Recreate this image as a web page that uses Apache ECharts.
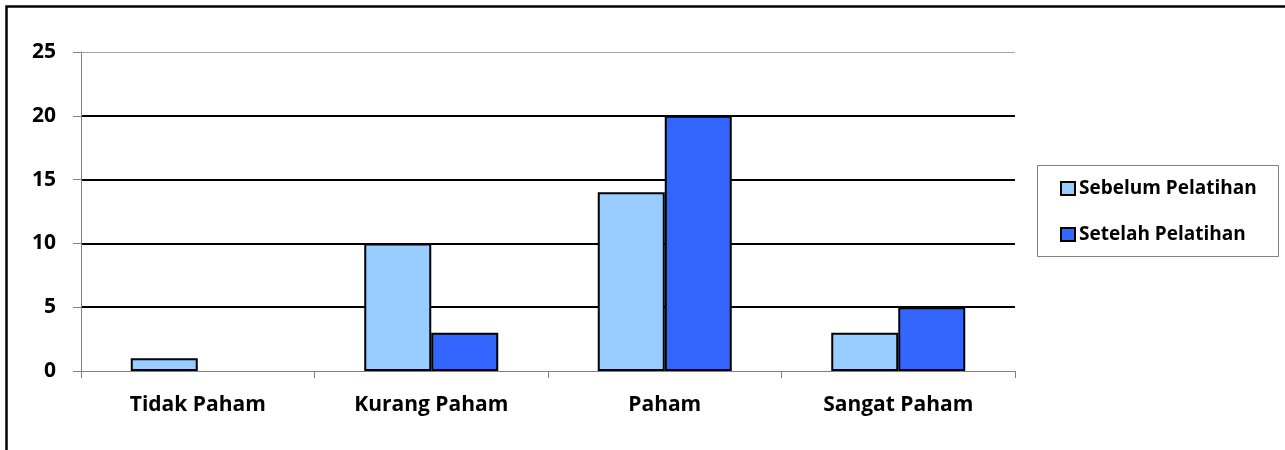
<!DOCTYPE html>
<html>
<head>
<meta charset="utf-8">
<style>
  html, body { margin: 0; padding: 0; background: #fff; }
  #chart { width: 1285px; height: 450px; }
</style>
<script src="https://cdn.jsdelivr.net/npm/echarts@6/dist/echarts.min.js"></script>
</head>
<body>
<div id="chart"></div>
<script>
// Tingkat pemahaman peserta sebelum dan sesudah pelatihan
const categories = ['Tidak Paham', 'Kurang Paham', 'Paham', 'Sangat Paham'];
const sebelum = [1, 10, 14, 3];
const setelah = [0, 3, 20, 5];
const seriesNames = ['Sebelum Pelatihan', 'Setelah Pelatihan'];

const FONT = '"Open Sans", sans-serif';

// zero-height bars draw no outline
function barData(values) {
  return values.map(v => v === 0 ? { value: v, itemStyle: { borderWidth: 0 } } : v);
}

const chart = echarts.init(document.getElementById('chart'), null, { renderer: 'canvas' });

chart.setOption({
  backgroundColor: '#ffffff',
  animation: false,
  textStyle: { fontFamily: FONT },
  grid: { left: 81, right: 270, top: 52, bottom: 79, containLabel: false },
  legend: {
    orient: 'vertical',
    left: 1060,
    top: 178,
    padding: 0,
    itemGap: 25,
    itemWidth: 14,
    itemHeight: 13,
    icon: 'rect',
    textStyle: {
      fontFamily: FONT, fontWeight: 'bold', fontSize: 19, lineHeight: 21,
      color: '#000', padding: [0, 0, 0, -1]
    },
    data: seriesNames
  },
  xAxis: {
    type: 'category',
    data: categories,
    axisLine: { lineStyle: { color: '#808080', width: 1 } },
    axisTick: { show: true, length: 7, lineStyle: { color: '#808080' } },
    axisLabel: { fontFamily: FONT, fontWeight: 'bold', fontSize: 21, color: '#000', margin: 24 }
  },
  yAxis: {
    type: 'value',
    min: 0,
    max: 25,
    interval: 5,
    axisLine: { show: true, lineStyle: { color: '#808080', width: 1 } },
    axisTick: { show: true, length: 8, lineStyle: { color: '#808080' } },
    axisLabel: { fontFamily: FONT, fontWeight: 'bold', fontSize: 21, color: '#000', margin: 25 },
    splitLine: {
      show: true,
      lineStyle: { color: ['transparent', '#000', '#000', '#000', '#000', 'transparent'], width: 2 }
    }
  },
  series: [
    {
      name: seriesNames[0],
      type: 'bar',
      data: barData(sebelum),
      barWidth: 67,
      barGap: '0%',
      itemStyle: { color: '#99CCFF', borderColor: '#000', borderWidth: 2 },
      markLine: {
        silent: true,
        symbol: 'none',
        label: { show: false },
        lineStyle: { color: '#a0a0a0', width: 1, type: 'solid' },
        data: [{ yAxis: 25 }]
      }
    },
    {
      name: seriesNames[1],
      type: 'bar',
      data: barData(setelah),
      barWidth: 67,
      barGap: '0%',
      itemStyle: { color: '#3366FF', borderColor: '#000', borderWidth: 2 }
    }
  ],
  graphic: [
    {
      type: 'rect',
      silent: true,
      shape: { x: 6.5, y: 6.5, width: 1400, height: 600 },
      style: { fill: 'none', stroke: '#000', lineWidth: 2.5 }
    },
    {
      type: 'rect',
      silent: true,
      z: -1,
      shape: { x: 1037.5, y: 165.5, width: 241, height: 91 },
      style: { fill: '#fff', stroke: '#808080', lineWidth: 1 }
    }
  ]
});
</script>
</body>
</html>
